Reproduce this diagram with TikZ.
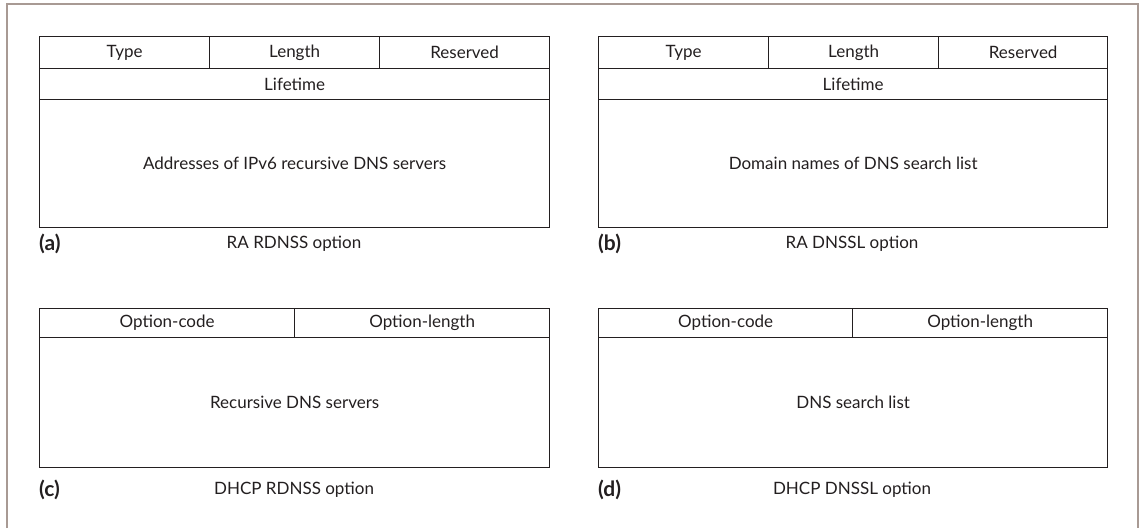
\documentclass[tikz,border=0pt]{standalone}
\usepackage{fontspec}
\setmainfont{Lato}
\definecolor{framec}{HTML}{A89A94}
\definecolor{ink}{HTML}{231F20}
\begin{document}
\begin{tikzpicture}[x=1pt,y=-1pt,
  cell/.style={draw=ink, line width=1.3pt, inner sep=0pt, text=ink, font=\fontsize{17}{19}\selectfont, anchor=north west},
  lbl/.style={text=ink, font=\fontsize{17}{19}\selectfont, inner sep=0pt},
  tag/.style={text=ink, font=\fontsize{21}{23}\selectfont\bfseries, inner sep=0pt, anchor=west}]
\useasboundingbox (0,0) rectangle (1139,528);
\fill[white] (0,0) rectangle (1139,528);
\coordinate (fbl) at (7,528);
\coordinate (ftl) at (7,4);
\coordinate (ftr) at (1138,4);
\coordinate (fbr) at (1138,528);
\draw[framec, line width=1.6pt] (fbl) -- (ftl) -- (ftr) -- (fbr);
% (a)
\node[cell, minimum width=170pt, minimum height=32pt] (atype) at (39,36) {Type};
\node[cell, minimum width=170pt, minimum height=32pt] (alen) at (209,36) {Length};
\node[cell, minimum width=170pt, minimum height=32pt] (ares) at (379,36) {Reserved};
\node[cell, minimum width=510pt, minimum height=31pt] (alife) at (39,68) {Lifetime};
\node[cell, minimum width=510pt, minimum height=128pt] (abody) at (39,99) {Addresses of IPv6 recursive DNS servers};
\node[tag] (atag) at (39,244) {(a)};
\node[lbl] (acap) at (294,244) {RA RDNSS option};
% (b)
\node[cell, minimum width=170pt, minimum height=32pt] (btype) at (598,36) {Type};
\node[cell, minimum width=170pt, minimum height=32pt] (blen) at (768,36) {Length};
\node[cell, minimum width=169pt, minimum height=32pt] (bres) at (938,36) {Reserved};
\node[cell, minimum width=509pt, minimum height=31pt] (blife) at (598,68) {Lifetime};
\node[cell, minimum width=509pt, minimum height=128pt] (bbody) at (598,99) {Domain names of DNS search list};
\node[tag] (btag) at (598,244) {(b)};
\node[lbl] (bcap) at (852,244) {RA DNSSL option};
% (c)
\node[cell, minimum width=255pt, minimum height=29pt] (ccode) at (39,308) {Option-code};
\node[cell, minimum width=255pt, minimum height=29pt] (clen) at (294,308) {Option-length};
\node[cell, minimum width=510pt, minimum height=130pt] (cbody) at (39,337) {Recursive DNS servers};
\node[tag] (ctag) at (39,490) {(c)};
\node[lbl] (ccap) at (294,490) {DHCP RDNSS option};
% (d)
\node[cell, minimum width=254pt, minimum height=29pt] (dcode) at (598,308) {Option-code};
\node[cell, minimum width=255pt, minimum height=29pt] (dlen) at (852,308) {Option-length};
\node[cell, minimum width=509pt, minimum height=130pt] (dbody) at (598,337) {DNS search list};
\node[tag] (dtag) at (598,490) {(d)};
\node[lbl] (dcap) at (852,490) {DHCP DNSSL option};
\end{tikzpicture}
\end{document}
